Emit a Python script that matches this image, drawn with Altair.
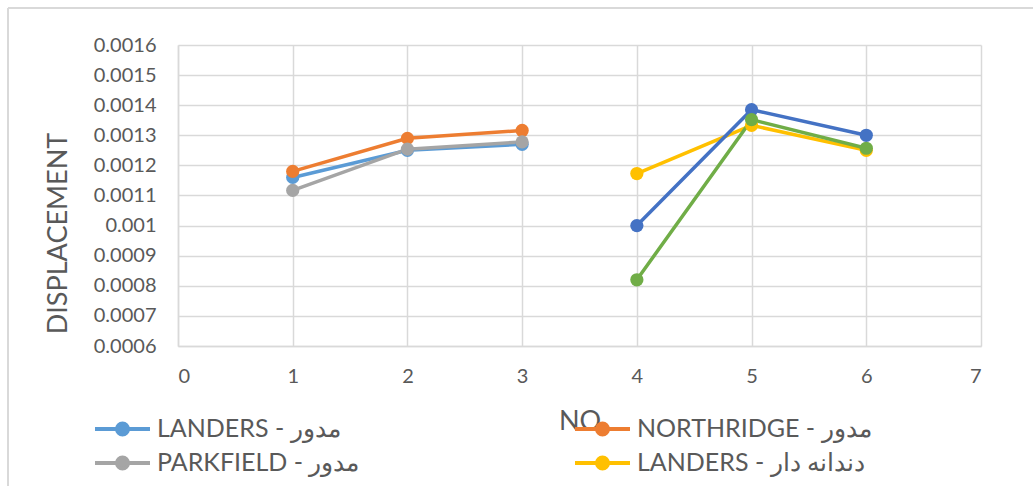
import altair as alt
import pandas as pd

# Sample number on the x axis
no_round = [1, 2, 3]
no_toothed = [4, 5, 6]

# Displacement per record: round ("مدور") and toothed ("دندانه دار") sections
landers_round = [0.00116, 0.00125, 0.00127]
northridge_round = [0.00118, 0.00129, 0.001316]
parkfield_round = [0.001117, 0.001254, 0.001278]
landers_toothed = [0.001173, 0.001333, 0.00125]
northridge_toothed = [0.001, 0.001385, 0.0013]
parkfield_toothed = [0.00082, 0.001352, 0.001257]

series_names = [
    "LANDERS - مدور",
    "NORTHRIDGE - مدور",
    "PARKFIELD - مدور",
    "LANDERS - دندانه دار",
    "NORTHRIDGE - دندانه دار",
    "PARKFIELD - دندانه دار",
]
series_colors = ["#5B9BD5", "#ED7D31", "#A5A5A5", "#FFC000", "#4472C4", "#70AD47"]
# legend is filled column by column
legend_names = [series_names[0], series_names[2], series_names[1], series_names[3]]

y_ticks = [0.0006, 0.0007, 0.0008, 0.0009, 0.001, 0.0011,
           0.0012, 0.0013, 0.0014, 0.0015, 0.0016]
x_ticks = [0, 1, 2, 3, 4, 5, 6, 7]

rows = []
for name, xs, ys in [
    (series_names[0], no_round, landers_round),
    (series_names[1], no_round, northridge_round),
    (series_names[2], no_round, parkfield_round),
    (series_names[3], no_toothed, landers_toothed),
    (series_names[4], no_toothed, northridge_toothed),
    (series_names[5], no_toothed, parkfield_toothed),
]:
    for xv, yv in zip(xs, ys):
        rows.append({"series": name, "NO": xv, "DISPLACEMENT": yv,
                     "order": series_names.index(name)})
df = pd.DataFrame(rows)

FONT = "Lato"
GRID = "#D9D9D9"
TEXT = "#595959"

# legend glyph: a short line with a dot in the middle
r = 0.2
legend_symbol = (
    f"M-1,0L1,0M{r},0A{r},{r},0,1,1,-{r},0A{r},{r},0,1,1,{r},0Z"
)

color = alt.Color(
    "series:N",
    scale=alt.Scale(domain=series_names, range=series_colors),
    sort=series_names,
    legend=alt.Legend(
        title=None,
        values=legend_names,
        orient="none",
        legendX=-85,
        legendY=369,
        columns=2,
        columnPadding=213,
        rowPadding=4,
        clipHeight=30,
        symbolType=legend_symbol,
        symbolSize=3025,
        symbolStrokeWidth=4,
        labelFont=FONT,
        labelFontSize=25,
        labelColor=TEXT,
        labelOffset=5,
        labelLimit=400,
    ),
)

x_enc = alt.X(
    "NO:Q",
    scale=alt.Scale(domain=[0, 7], nice=False, zero=False),
    axis=alt.Axis(
        title="NO",
        values=x_ticks,
        format="d",
        grid=True,
        gridColor=GRID,
        gridWidth=1.5,
        domainColor=GRID,
        domainWidth=1.5,
        ticks=False,
        labelPadding=20,
        labelFont=FONT,
        labelFontSize=20,
        labelColor=TEXT,
        titleFont=FONT,
        titleFontSize=27,
        titleFontWeight="normal",
        titleColor=TEXT,
        titlePadding=22,
    ),
)
y_enc = alt.Y(
    "DISPLACEMENT:Q",
    scale=alt.Scale(domain=[0.0006, 0.0016], nice=False, zero=False),
    axis=alt.Axis(
        title="DISPLACEMENT",
        values=y_ticks,
        format="~g",
        grid=True,
        gridColor=GRID,
        gridWidth=1.5,
        domainColor=GRID,
        domainWidth=1.5,
        ticks=False,
        labelPadding=22,
        labelFont=FONT,
        labelFontSize=20,
        labelColor=TEXT,
        titleFont=FONT,
        titleFontSize=27,
        titleFontWeight="normal",
        titleColor=TEXT,
        titleX=-120,
        titleY=188,
        titleBaseline="middle",
    ),
)

base = alt.Chart(df).encode(x=x_enc, y=y_enc, color=color, order="order:Q")

lines = base.mark_line(strokeWidth=3.5)
points = base.mark_point(filled=True, size=175, opacity=1)

# Light frame around the whole chart (left and top edges)
frame_left = alt.Chart(df).mark_rule(color=GRID, strokeWidth=2, clip=False).encode(
    x=alt.value(-170), y=alt.value(-37), y2=alt.value(460)
)
frame_top = alt.Chart(df).mark_rule(color=GRID, strokeWidth=2, clip=False).encode(
    x=alt.value(-170), x2=alt.value(900), y=alt.value(-37)
)

chart = (
    alt.layer(frame_left, frame_top, lines, points)
    .properties(
        width=803,
        height=301,
        autosize=alt.AutoSizeParams(type="none"),
        padding={"left": 178, "top": 45, "right": 52, "bottom": 140},
        background="white",
    )
    .configure_view(stroke=None)
)

chart.save("out.html", embed_options={"renderer": "svg", "actions": False})
